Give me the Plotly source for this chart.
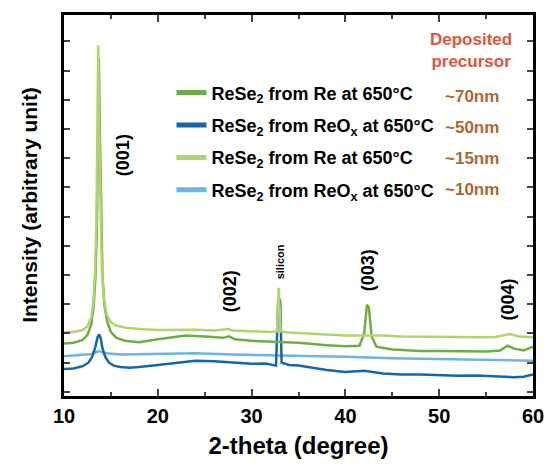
import plotly.graph_objects as go

# ---------------- data (arbitrary intensity units) ----------------
x_re70 = [10, 11, 12.0, 12.5, 12.9, 13.15, 13.35, 13.5, 13.62, 13.72, 13.82, 13.95, 14.1, 14.3, 14.6, 15.0, 15.6,
          16.5, 18, 20, 22, 23, 25, 27, 27.6, 28.2, 30, 32, 33, 35, 38, 40, 41.5, 42.0, 42.3, 42.5, 42.8, 43.3,
          45, 48, 50, 53, 55, 56.5, 57.3, 58, 59, 60]
y_re70 = [1.66, 1.68, 1.78, 1.95, 2.3, 2.9, 3.9, 5.5, 8.5, 11.4, 9.0, 5.8, 4.0, 3.0, 2.4, 2.05, 1.85,
          1.75, 1.7, 1.8, 1.9, 1.93, 1.9, 1.85, 1.9, 1.8, 1.75, 1.72, 1.72, 1.68, 1.6, 1.56, 1.58, 2.0, 2.98, 2.9, 1.9, 1.55,
          1.45, 1.4, 1.4, 1.38, 1.38, 1.42, 1.58, 1.48, 1.42, 1.55]

x_reox50 = [10, 11, 12, 12.6, 13.0, 13.35, 13.6, 13.75, 13.9, 14.1, 14.4, 14.8, 15.3, 16, 17, 18, 20, 22, 24, 26,
            28, 30, 31.5, 32.6, 32.85, 33.05, 33.2, 34, 35, 36, 38, 40, 42, 44, 46, 48, 50, 52, 54, 56, 58, 59, 60]
y_reox50 = [0.78, 0.8, 0.88, 1.0, 1.2, 1.55, 1.9, 1.97, 1.85, 1.5, 1.2, 1.0, 0.9, 0.85, 0.83, 0.85, 0.92, 1.0, 1.07, 1.05,
            1.0, 0.96, 0.97, 0.9, 3.25, 3.1, 1.0, 0.92, 0.9, 0.85, 0.75, 0.68, 0.72, 0.63, 0.6, 0.6, 0.58, 0.55, 0.56, 0.52,
            0.5, 0.52, 0.6]

x_re15 = [10, 11, 12.0, 12.5, 12.9, 13.1, 13.3, 13.45, 13.55, 13.65, 13.75, 13.88, 14.03, 14.25, 14.55, 14.95, 15.5,
          16.5, 18, 20, 22, 24, 26, 27.5, 28, 30, 32, 32.7, 32.9, 33.1, 34, 36, 38, 40, 42, 44, 46, 48, 50, 52, 54,
          56, 57.5, 58.5, 60]
y_re15 = [2.03, 2.05, 2.12, 2.25, 2.55, 3.0, 4.0, 5.7, 8.7, 11.86, 9.0, 6.0, 4.2, 3.2, 2.65, 2.4, 2.28,
          2.2, 2.15, 2.12, 2.12, 2.13, 2.1, 2.15, 2.1, 2.07, 2.05, 2.07, 3.56, 2.07, 2.03, 2.0, 1.97, 1.93, 1.93, 1.93,
          1.9, 1.9, 1.9, 1.88, 1.87, 1.88, 1.98, 1.9, 1.87]

x_reox10 = [10, 12, 13, 13.7, 14.5, 16, 20, 24, 28, 30, 32.5, 35, 40, 45, 50, 55, 60]
y_reox10 = [1.22, 1.27, 1.3, 1.4, 1.32, 1.28, 1.3, 1.32, 1.28, 1.27, 1.25, 1.22, 1.2, 1.15, 1.12, 1.1, 1.07]

series_names = ["ReSe<sub>2</sub> from Re at 650°C", "ReSe<sub>2</sub> from ReO<sub>x</sub> at 650°C",
                "ReSe<sub>2</sub> from Re at 650°C", "ReSe<sub>2</sub> from ReO<sub>x</sub> at 650°C"]
thickness_labels = ["~70nm", "~50nm", "~15nm", "~10nm"]
peak_labels = ["(001)", "(002)", "silicon", "(003)", "(004)"]
x_ticks = [10, 20, 30, 40, 50, 60]

colors = ["#6ead45", "#1565a9", "#b2d46c", "#6db5e5"]
FONT = "Liberation Sans, Arial, sans-serif"

fig = go.Figure()

data = [(x_re70, y_re70), (x_reox50, y_reox50), (x_re15, y_re15), (x_reox10, y_reox10)]
draw_order = [3, 1, 0, 2]
for i in draw_order:
    xs, ys = data[i]
    fig.add_trace(go.Scatter(x=xs, y=ys, mode="lines", line=dict(color=colors[i], width=2.5),
                             showlegend=False, hoverinfo="skip"))

# legend entries (thicker line samples)
for i in range(4):
    fig.add_trace(go.Scatter(x=[None], y=[None], mode="lines", name=series_names[i],
                             line=dict(color=colors[i], width=5), legendgroup=str(i), showlegend=True))

# ---------------- annotations ----------------
W0, W1, H0, H1 = 64, 544, 12, 397


def px(xp):
    return (xp - W0) / (W1 - W0)


def py(yp):
    return (H1 - yp) / (H1 - H0)


ann = []
ann.append(dict(text="Deposited<br>precursor", x=px(481), y=py(48), xref="paper", yref="paper",
                xanchor="center", yanchor="middle", showarrow=False,
                font=dict(family=FONT, size=17, color="#e2553d", weight="bold"), align="center"))
for lbl, yp in zip(thickness_labels, [94, 126, 157, 188]):
    ann.append(dict(text=lbl, x=px(482), y=py(yp), xref="paper", yref="paper", showarrow=False,
                    xanchor="center", yanchor="middle",
                    font=dict(family=FONT, size=17, color="#b0662c", weight="bold")))

peak_pos = [(124, 154, 18), (234, 291, 18), (285, 261, 11), (375, 270, 18), (518, 300, 18)]
for lbl, (xp, yp, fs) in zip(peak_labels, peak_pos):
    ann.append(dict(text=lbl, x=px(xp), y=py(yp), xref="paper", yref="paper", showarrow=False,
                    xanchor="center", yanchor="middle", textangle=-90,
                    font=dict(family=FONT, size=fs, color="black", weight="bold")))

# y-axis title, centred on the plot height
ann.append(dict(text="Intensity (arbitrary unit)", x=px(28), y=py(204), xref="paper", yref="paper",
                showarrow=False, xanchor="center", yanchor="middle", textangle=-90,
                font=dict(family=FONT, size=21, color="black", weight="bold")))

fig.update_layout(
    width=556, height=468,
    margin=dict(l=W0, r=556 - W1, t=H0, b=468 - H1),
    paper_bgcolor="white", plot_bgcolor="white",
    annotations=ann,
    legend=dict(x=px(174), y=py(72), xanchor="left", yanchor="top", bgcolor="rgba(0,0,0,0)",
                font=dict(family=FONT, size=18, color="black", weight="bold"),
                traceorder="grouped", tracegroupgap=6, itemwidth=30),
    xaxis=dict(range=[10, 60], tickvals=x_ticks, ticks="inside", ticklen=7, tickwidth=2,
               showline=True, linecolor="black", linewidth=2.5, mirror="allticks",
               showgrid=False, zeroline=False,
               minor=dict(dtick=5, tick0=0, ticks="inside", ticklen=4, tickwidth=2, showgrid=False),
               tickfont=dict(family=FONT, size=20, color="black", weight="bold"),
               title=dict(text="2-theta (degree)", standoff=12,
                          font=dict(family=FONT, size=24, color="black", weight="bold"))),
    yaxis=dict(range=[-0.14, 12.9], tick0=0, dtick=1, ticks="inside", ticklen=6, tickwidth=2,
               showticklabels=False, showline=True, linecolor="black", linewidth=2.5, mirror="allticks",
               showgrid=False, zeroline=False),
)

fig.write_html("out.html")
